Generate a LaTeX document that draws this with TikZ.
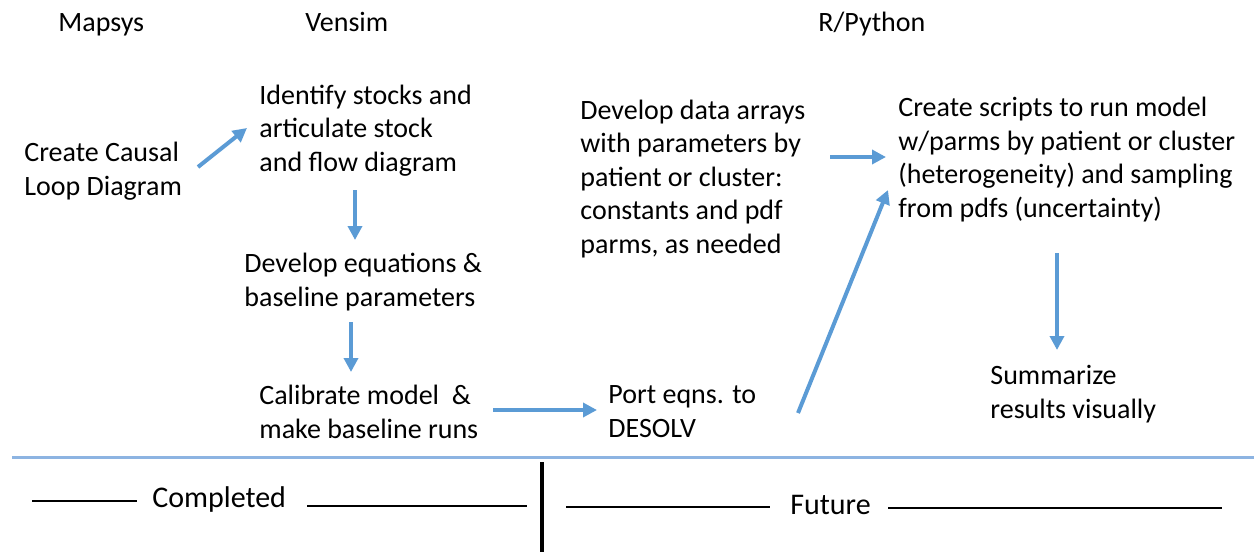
\documentclass[tikz,border=0pt]{standalone}
\usepackage{fontspec}
\setmainfont{Carlito}
\usetikzlibrary{arrows.meta,calc}
\definecolor{flowblue}{RGB}{91,155,213}
\definecolor{ruleblue}{RGB}{141,180,226}
\begin{document}
\begin{tikzpicture}[x=0.5pt,y=-0.5pt,>={Triangle[length=7pt,width=7pt]},
  tool/.style={inner sep=0pt,anchor=base west,font=\fontsize{14}{16.75}\selectfont},
  stepnote/.style={inner sep=0pt,anchor=base west,align=left,font=\fontsize{14}{16.75}\selectfont},
  flow/.style={->,draw=flowblue,line width=2pt}]
\useasboundingbox (0,0) rectangle (1254,552);
% tool headings
\node[tool](Mapsys)at(58, 31){Mapsys};
\node[tool](Vensim)at(305, 31){Vensim};
\node[tool](RPython)at(818, 31){R/Python};
% steps (placed at the baseline of their last line)
\node[stepnote](Causal)at(24, 195){Create Causal\\Loop Diagram};
\node[stepnote](Identify)at(259, 171){Identify stocks and\\articulate stock\\and flow diagram};
\node[stepnote](Equations)at(244, 306){Develop equations \&\\baseline parameters};
\node[stepnote](Calibrate)at(259, 438){Calibrate model~~\&\\make baseline runs};
\node[stepnote](Port)at(608, 437){Port eqns. to\\DESOLV};
\node[stepnote](Arrays)at(580, 253){Develop data arrays\\with parameters by\\patient or cluster:\\constants and pdf\\parms, as needed};
\node[stepnote](Scripts)at(898, 217){Create scripts to run model\\w/parms by patient or cluster\\(heterogeneity) and sampling\\from pdfs (uncertainty)};
\node[stepnote](Summarize)at(990, 418){Summarize\\results visually};
% flow arrows
\path($(Causal.base west)+(174,-28)$) edge[flow] ($(Identify.base west)+(-12,-43)$)
  ($(Identify.base west)+(96,19)$) edge[flow] ($(Equations.base west)+(111,-66)$)
  ($(Equations.base west)+(107,16)$) edge[flow] ($(Calibrate.base west)+(92,-66)$)
  ($(Calibrate.base west)+(234,-28)$) edge[flow] ($(Port.base west)+(-11,-27)$)
  ($(Arrays.base west)+(250,-96)$) edge[flow] ($(Scripts.base west)+(-12,-60)$)
  ($(Port.base west)+(190,-24)$) edge[flow] ($(Scripts.base west)+(-10,-27)$)
  ($(Scripts.base west)+(159,36)$) edge[flow] ($(Summarize.base west)+(67,-68)$);
% completed / future
\draw[ruleblue,line width=1.5pt](12,457)--(1254,457);
\draw[black,line width=1.6pt](542,462)--(542,552);
\node[tool,font=\fontsize{15}{16}\selectfont](Completed)at(152, 507){Completed};
\node[tool,font=\fontsize{15}{16}\selectfont](Future)at(790, 514){Future};
\draw[black,line width=0.8pt](32,501)--(137,501) (307,506)--(527,506);
\draw[black,line width=0.8pt](566,507)--(770,507) (888,508)--(1222,508);
\end{tikzpicture}
\end{document}
